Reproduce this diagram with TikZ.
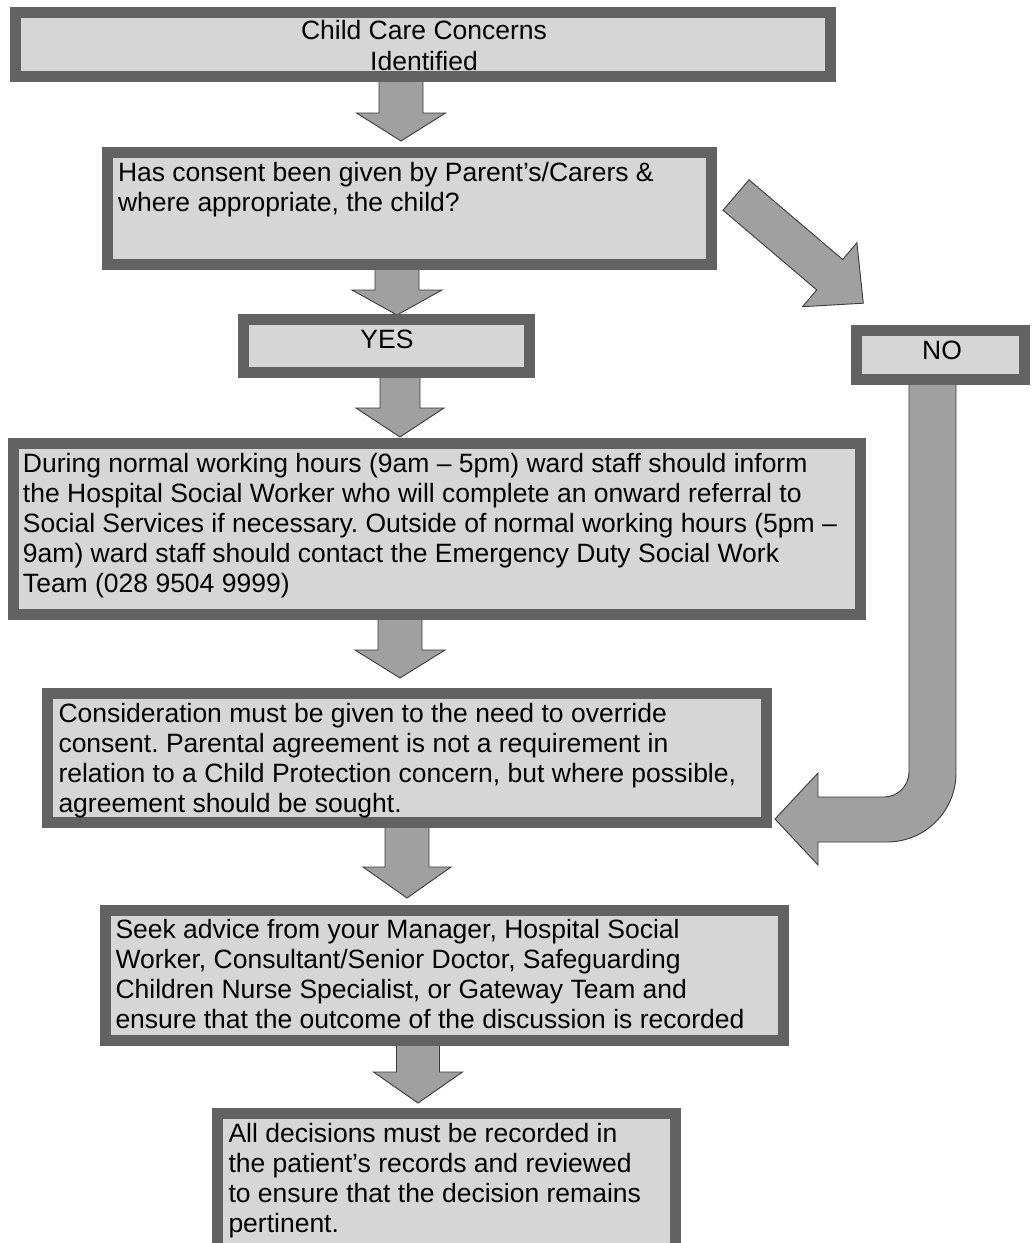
\documentclass[tikz,border=0pt]{standalone}
\usepackage{fontspec}
\setmainfont{Liberation Sans}
\definecolor{boxborder}{HTML}{626262}
\definecolor{boxfill}{HTML}{D6D6D6}
\definecolor{arrowfill}{HTML}{A0A0A0}
\definecolor{arrowline}{HTML}{3A3A3A}
\tikzset{
  frame/.style={draw=boxborder, fill=boxfill, line width=11pt, inner sep=0pt, outer sep=0pt},
  label/.style={inner sep=0pt, outer sep=0pt, font=\fontsize{26.5}{30}\selectfont\frenchspacing, text=black},
  blockarrow/.style={fill=arrowfill, draw=arrowline, line width=0.9pt, line join=miter},
}
% #1 name, #2 x centre, #3 shaft top, #4 head top, #5 tip, #6 shaft half width, #7 head half width
\newcommand\blockdown[7]{%
  \draw[blockarrow] (#2-#6,#3) -- (#2+#6,#3) -- (#2+#6,#4) -- (#2+#7,#4)
    -- (#2,#5) coordinate (#1) -- (#2-#7,#4) -- (#2-#6,#4) -- cycle;}
\begin{document}
\begin{tikzpicture}[x=1pt,y=-1pt]
\useasboundingbox (0,0) rectangle (1032,1243);

% ---------- block arrows (drawn first, boxes overlap their tails) ----------
\blockdown{a1}{401}{80}{113}{141}{22}{44.5}
\blockdown{a2}{397}{265}{290}{315}{22}{45}
\blockdown{a3}{400}{376}{408}{437}{20}{44}
\blockdown{a4}{400}{616}{650}{678}{22}{45}
\blockdown{a5}{407}{824}{867}{898}{22}{44}
\blockdown{a6}{418}{1040}{1072}{1103}{21.5}{44.5}

% diagonal arrow towards NO
\draw[blockarrow] (749,179.8) -- (842.7,259.5) -- (856.9,242.7) -- (863.3,303.2) coordinate (adiag)
  -- (802.5,306.7) -- (816.7,289.9) -- (723,210.2) -- cycle;

% bent arrow from NO back to the consideration box
\draw[blockarrow] (909,378) -- (956,378) -- (956,773)
  .. controls (956,811.1) and (925.1,842) .. (887,842)
  -- (818,842) -- (818,865) -- (775,819) coordinate (abent) -- (818,773) -- (818,797) -- (884,797)
  .. controls (897.8,797) and (909,785.8) .. (909,772) -- cycle;

% ---------- boxes ----------
\node[frame, minimum width=815pt, minimum height=64pt] (b1) at (423,44.5) {};
\node[frame, minimum width=604pt, minimum height=112pt] (b2) at (409.5,208.5) {};
\node[frame, minimum width=286pt, minimum height=53pt] (yes) at (386.5,346) {};
\node[frame, minimum width=168pt, minimum height=49pt] (no) at (940.5,355) {};
\node[frame, minimum width=847pt, minimum height=171pt] (b5) at (437,529) {};
\node[frame, minimum width=719pt, minimum height=129pt] (b6) at (407,758) {};
\node[frame, minimum width=678pt, minimum height=130pt] (b7) at (444.5,975.5) {};
\node[frame, minimum width=458pt, minimum height=140pt] (b8) at (446.5,1183) {};

% ---------- texts ----------
\node[label, align=center, anchor=north] (t1) at (424,20.6)
  {Child Care Concerns\\[1pt]Identified};
\node[label, align=left, anchor=north west] (t2) at (118,162.6)
  {Has consent been given by Parent’s/Carers \&\\where appropriate, the child?};
\node[label, anchor=base] (tyes) at (387,348) {YES};
\node[label, anchor=base] (tno) at (942,359) {NO};
\node[label, align=left, anchor=north west] (t5) at (23,453.6)
  {During normal working hours (9am – 5pm) ward staff should inform\\
   the Hospital Social Worker who will complete an onward referral to\\
   Social Services if necessary. Outside of normal working hours (5pm –\\
   9am) ward staff should contact the Emergency Duty Social Work\\
   Team (028 9504 9999)};
\node[label, align=left, anchor=north west] (t6) at (58.5,703.6)
  {Consideration must be given to the need to override\\
   consent. Parental agreement is not a requirement in\\
   relation to a Child Protection concern, but where possible,\\
   agreement should be sought.};
\node[label, align=left, anchor=north west] (t7) at (115.5,919.6)
  {Seek advice from your Manager, Hospital Social\\
   Worker, Consultant/Senior Doctor, Safeguarding\\
   Children Nurse Specialist, or Gateway Team and\\
   ensure that the outcome of the discussion is recorded};
\node[label, align=left, anchor=north west] (t8) at (228.5,1123.6)
  {All decisions must be recorded in\\
   the patient’s records and reviewed\\
   to ensure that the decision remains\\
   pertinent.};
\end{tikzpicture}
\end{document}
